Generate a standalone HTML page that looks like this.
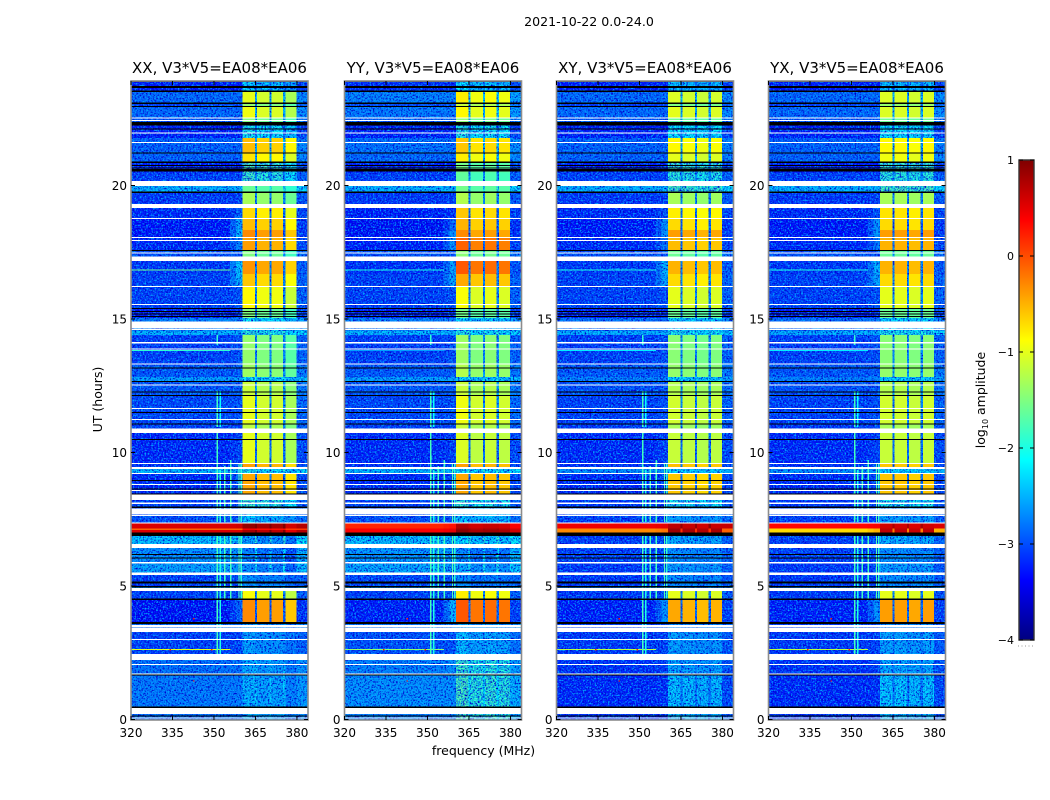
<!DOCTYPE html>
<html>
<head>
<meta charset="utf-8">
<title>2021-10-22 amplitude waterfall</title>
<style>
html,body{margin:0;padding:0;background:#fff;}
svg{display:block;}
text{font-family:"DejaVu Sans","Liberation Sans",sans-serif;fill:#000;}
</style>
</head>
<body>
<svg id="chart" width="1050" height="800" viewBox="0 0 1050 800" xmlns="http://www.w3.org/2000/svg">
<defs id="defs">
<linearGradient id="cbar-gradient" x1="0" y1="1" x2="0" y2="0"></linearGradient>
</defs>
<rect x="0" y="0" width="1050" height="800" fill="#fff"></rect>
<text x="589" y="26" font-size="12.6" text-anchor="middle">2021-10-22 0.0-24.0</text>
<text x="102" y="399.5" font-size="12.5" text-anchor="middle" transform="rotate(-90 102 399.5)">UT (hours)</text>
<text x="483.5" y="755" font-size="12.5" text-anchor="middle">frequency (MHz)</text>
<text x="985" y="400" font-size="12.5" text-anchor="middle" transform="rotate(-90 985 400)">log<tspan font-size="8" dy="3">10</tspan><tspan dy="-3"> amplitude</tspan></text>
<g id="panels"></g>
<g id="colorbar"></g>
</svg>
<script>
// Band edges in UT hours, from the top of each panel downward
const bandEdges = [23.95,23.51,23.06,22.94,22.52,22.24,21.77,21.21,20.85,20.48,20.16,19.71,19.16,18.76,18.33,18.07,17.55,17.18,16.69,16.20,15.41,15.03,14.55,14.40,13.29,12.82,12.64,12.15,11.06,10.73,9.61,9.39,9.19,8.45,7.96,7.35,7.16,7.10,7.01,6.87,6.42,5.85,5.42,5.00,4.82,4.48,3.65,3.28,2.23,1.67,0.43,0];

// log10 amplitude per band, off-band background
const xxBackground = [-3.3,-2.85,-3.1,-2.85,-3.0,-3.3,-2.9,-2.9,-3.3,-3.1,
 -2.4,-3.15,-3.25,-3.35,-3.35,-3.25,-3.0,-3.15,-3.1,-3.1,
 -3.3,-2.7,-2.35,-3.1,-2.95,-2.5,-2.95,-3.05,-3.1,-3.25,
 -3.2,-2.35,-3.25,-3.1,-3.0,0.55,-0.1,0.55,0.55,-2.3,
 -2.6,-2.5,-3.1,-2.5,-3.1,-3.4,-2.8,-3.1,-2.8,-2.75,-2.8];
const yyBackground = [-3.2,-2.7,-3.0,-2.75,-2.9,-3.3,-2.8,-2.85,-3.3,-3.1,
 -2.4,-3.15,-3.3,-3.4,-3.4,-3.3,-3.0,-3.2,-3.1,-3.1,
 -3.3,-2.7,-2.35,-3.1,-2.95,-2.5,-2.95,-3.05,-3.1,-3.25,
 -3.2,-2.35,-3.25,-3.1,-3.0,0.2,0.4,0.4,0.4,-2.3,
 -2.55,-2.45,-3.05,-2.5,-3.1,-3.3,-2.75,-3.0,-2.7,-2.6,-2.7];
const xyBackground = [-3.3,-2.85,-3.1,-2.85,-3.0,-3.3,-2.9,-2.9,-3.3,-3.1,
 -2.4,-3.15,-3.25,-3.35,-3.35,-3.25,-3.0,-3.15,-3.1,-3.1,
 -3.3,-2.8,-2.4,-3.1,-2.95,-2.7,-3.0,-3.1,-3.15,-3.25,
 -3.2,-2.6,-3.25,-3.15,-3.1,0.45,-0.3,-0.3,-0.3,-3.1,
 -3.1,-3.15,-3.15,-2.7,-3.15,-3.3,-3.1,-3.15,-3.2,-3.25,-3.2];
const yxBackground = [-3.3,-2.85,-3.1,-2.85,-3.0,-3.3,-2.9,-2.9,-3.3,-3.1,
 -2.4,-3.15,-3.25,-3.35,-3.35,-3.25,-3.0,-3.15,-3.1,-3.1,
 -3.3,-2.8,-2.4,-3.1,-2.95,-2.7,-3.0,-3.1,-3.15,-3.25,
 -3.2,-2.6,-3.25,-3.15,-3.1,0.35,-0.7,-0.7,-0.7,-3.1,
 -3.1,-3.15,-3.15,-2.7,-3.15,-3.3,-3.1,-3.15,-3.2,-3.25,-3.2];

// log10 amplitude per band, shoulder just below the passband
const xxShoulder = [-3.3,-2.85,-3.1,-2.85,-3.0,-3.3,-2.9,-2.9,-3.3,-3.1,
 -2.4,-3.1,-2.9,-2.5,-2.4,-2.7,-3.0,-2.3,-2.4,-3.0,
 -3.2,-2.7,-2.35,-3.0,-2.95,-2.5,-2.95,-3.0,-3.1,-3.1,
 -2.9,-2.35,-2.9,-3.1,-3.0,0.6,-0.1,0.55,0.55,-2.4,
 -2.6,-2.6,-3.0,-2.5,-3.0,-2.9,-2.8,-3.1,-2.8,-2.75,-2.8];
const yyShoulder = [-3.2,-2.7,-3.0,-2.75,-2.9,-3.3,-2.8,-2.85,-3.3,-3.1,
 -2.4,-3.1,-3.2,-2.9,-2.6,-2.6,-3.0,-2.5,-2.5,-3.0,
 -3.2,-2.7,-2.35,-3.0,-2.95,-2.5,-2.95,-3.0,-3.1,-3.1,
 -3.0,-2.35,-3.0,-3.1,-3.0,0.3,0.5,0.5,0.5,-2.4,
 -2.6,-2.6,-3.0,-2.5,-2.9,-2.4,-2.7,-3.0,-2.6,-2.6,-2.7];
const xyShoulder = [-3.3,-2.85,-3.1,-2.85,-3.0,-3.3,-2.9,-2.9,-3.3,-3.1,
 -2.4,-3.1,-3.0,-2.6,-2.6,-2.8,-3.0,-2.4,-2.5,-3.0,
 -3.2,-2.8,-2.4,-3.0,-2.95,-2.7,-3.0,-3.0,-3.1,-3.1,
 -3.0,-2.6,-3.0,-3.1,-3.1,0.5,-0.2,-0.2,-0.2,-3.0,
 -3.0,-3.0,-3.1,-2.7,-3.0,-2.6,-3.0,-3.1,-3.1,-3.2,-3.2];
const yxShoulder = [-3.3,-2.85,-3.1,-2.85,-3.0,-3.3,-2.9,-2.9,-3.3,-3.1,
 -2.4,-3.1,-3.0,-2.6,-2.6,-2.8,-3.0,-2.4,-2.5,-3.0,
 -3.2,-2.8,-2.4,-3.0,-2.95,-2.7,-3.0,-3.0,-3.1,-3.1,
 -3.0,-2.6,-3.0,-3.1,-3.1,0.4,-0.5,-0.5,-0.5,-3.0,
 -3.0,-3.0,-3.1,-2.7,-3.0,-2.6,-3.0,-3.1,-3.1,-3.2,-3.2];

// log10 amplitude per band, inside the 360-380 MHz passband
const xxPassband = [-2.3,-1.1,-1.5,-1.05,-1.6,-2.1,-0.65,-0.85,-1.8,-1.9,
 -1.7,-1.4,-0.8,-0.65,-0.4,-0.5,-1.6,-0.45,-0.7,-0.95,
 -1.6,-2.2,-2.0,-1.5,-1.45,-2.2,-1.25,-1.1,-1.3,-1.1,
 -0.5,-2.1,-0.55,-1.9,-2.4,0.8,0.3,0.7,0.7,-2.6,
 -2.8,-2.7,-2.7,-2.6,-1.0,-0.4,-2.6,-2.6,-2.55,-2.5,-2.5];
const yyPassband = [-2.2,-0.85,-1.2,-0.9,-1.5,-2.0,-0.65,-0.85,-1.6,-1.7,
 -1.6,-1.3,-0.65,-0.55,-0.35,-0.15,-1.5,-0.1,-0.5,-0.95,
 -1.6,-2.2,-2.0,-1.4,-1.3,-2.2,-1.2,-1.0,-1.2,-1.1,
 -0.45,-2.1,-0.5,-1.9,-2.3,0.7,0.85,0.9,0.8,-2.2,
 -2.7,-2.5,-2.7,-2.5,-0.85,-0.1,-2.5,-2.4,-1.85,-1.8,-1.8];
const xyPassband = [-2.3,-1.05,-1.5,-1.0,-1.6,-2.1,-0.85,-1.0,-1.8,-1.9,
 -1.75,-1.3,-0.8,-0.7,-0.4,-0.55,-1.6,-0.5,-0.7,-1.0,
 -1.6,-2.2,-2.0,-1.45,-1.4,-2.2,-1.25,-1.1,-1.3,-1.15,
 -0.55,-2.2,-0.6,-2.0,-2.5,0.7,0.85,0.85,0.6,-2.4,
 -2.6,-2.5,-2.6,-2.6,-1.0,-0.45,-2.6,-2.5,-2.45,-2.3,-2.35];
const yxPassband = [-2.3,-1.05,-1.4,-1.05,-1.6,-2.1,-0.85,-0.95,-1.8,-1.9,
 -1.75,-1.3,-0.75,-0.7,-0.4,-0.5,-1.6,-0.5,-0.7,-1.0,
 -1.6,-2.2,-2.0,-1.45,-1.4,-2.2,-1.25,-1.1,-1.3,-1.15,
 -0.6,-2.2,-0.6,-2.0,-2.5,0.6,0.7,0.7,0.6,-2.4,
 -2.6,-2.5,-2.6,-2.6,-1.0,-0.4,-2.6,-2.5,-2.45,-2.3,-2.35];

// Offset of the four sub-bands relative to the passband level
const xxSubBands = [0.1,0,0,-0.2];
const yySubBands = [0.05,-0.1,-0.05,-0.1];
const xySubBands = [0,-0.05,-0.1,-0.05];
const yxSubBands = [0,0,-0.05,0];

// Frequency segment edges (MHz) and what each segment holds
const freqEdges = [320,355.8,358,360.4,364.8,365.6,370.1,370.8,375,375.8,379.9,384];
const segmentKinds = ['bg','s0','sh','p0','n','p1','n','p2','n','p3','r'];

// Time ranges with no data (white), as start/end UT pairs
const blankStart = [22.55,22.46,21.98,21.63,20.16,19.31,18.78,18.08,17.96,17.50,17.35,16.24,15.56,14.90,14.63,14.13,13.90,13.34,12.55,11.66,11.25,10.89,9.60,9.45,9.24,8.82,8.60,8.43,8.12,7.91,7.67,7.37,6.57,5.89,5.50,4.93,3.53,3.42,3.01,2.45,2.08,1.73,0.43,0.08];
const blankEnd = [22.52,22.43,21.94,21.60,19.99,19.16,18.76,18.04,17.93,17.47,17.18,16.20,15.52,14.65,14.59,14.09,13.88,13.29,12.52,11.62,11.23,10.73,9.56,9.39,9.19,8.78,8.57,8.22,8.07,7.70,7.63,7.35,6.42,5.85,5.42,4.82,3.45,3.28,2.99,2.23,2.04,1.70,0.21,0.04];

// Time ranges of flagged samples (black)
const flagStart = [23.95,23.73,23.55,23.10,22.98,22.38,22.13,21.24,20.89,20.77,20.68,20.61,19.78,17.58,15.41,15.30,15.21,15.11,13.19,12.68,12.28,12.16,11.52,11.09,10.51,8.97,8.66,8.47,7.97,7.01,6.20,6.07,5.16,5.00,4.54,3.66,1.69,0.48,0.15];
const flagEnd = [23.88,23.66,23.51,23.06,22.94,22.24,22.09,21.21,20.85,20.73,20.64,20.53,19.71,17.55,15.37,15.27,15.19,15.09,13.16,12.64,12.24,12.15,11.48,11.06,10.47,8.93,8.62,8.43,7.93,6.87,6.16,6.04,5.10,4.94,4.48,3.58,1.67,0.43,0.11];

// Narrow-band interference: frequency, UT range, level
const rfiFreq = [351,351,351,351,352,352,352,353.7,353.7,355.8,355.8,358.8,358.8,359.6,359.6];
const rfiFrom = [14.40,12.30,10.73,6.87,12.30,9.34,6.87,9.50,6.87,9.72,6.87,9.60,6.87,9.60,6.87];
const rfiTo = [14.03,10.96,7.40,2.23,10.96,7.40,2.23,7.40,4.48,7.40,4.48,7.40,4.48,7.40,4.48];
const rfiLevel = [-1.9,-1.8,-1.8,-1.8,-2.1,-2.0,-2.0,-1.8,-1.8,-1.8,-1.8,-1.7,-1.7,-1.9,-1.9];

// Broadband interference lines: UT and level per panel
const lineUT = [16.85,14.12,13.84,2.64];
const xxLineLevel = [-1.6,-1.8,-1.9,-1.0];
const yyLineLevel = [-2.0,-2.4,-2.6,-1.4];
const xyLineLevel = [-2.0,-2.2,-2.2,-1.2];
const yxLineLevel = [-2.0,-2.2,-2.2,-1.2];

// Isolated hot samples
const spotFreq = [334,342.5,342.5,349];
const spotUT = [2.64,3.8,1.47,2.64];
const spotLevel = [0.3,0.3,0.3,0.2];

// Panels and axes
const panelNames = ['xx','yy','xy','yx'];
const panelTitles = ['XX, V3*V5=EA08*EA06','YY, V3*V5=EA08*EA06','XY, V3*V5=EA08*EA06','YX, V3*V5=EA08*EA06'];
const freqTicks = [320,335,350,365,380];
const utTicks = [0,5,10,15,20];
const colorTicks = [1,0,-1,-2,-3,-4];
const colorTickLabels = ['1','0','\u22121','\u22122','\u22123','\u22124'];

const backgrounds = [xxBackground,yyBackground,xyBackground,yxBackground];
const shoulders = [xxShoulder,yyShoulder,xyShoulder,yxShoulder];
const passbands = [xxPassband,yyPassband,xyPassband,yxPassband];
const subBands = [xxSubBands,yySubBands,xySubBands,yxSubBands];
const lineLevels = [xxLineLevel,yyLineLevel,xyLineLevel,yxLineLevel];

const NS = 'http://www.w3.org/2000/svg';
const panelLeft = [131,344.5,556.5,768.5];
const panelWidth = 177;
const plotTop = 81;
const plotBottom = 720;
const freqMin = 320, freqMax = 384;

function xAxis(i, f){ return panelLeft[i] + (f - freqMin) / (freqMax - freqMin) * panelWidth; }
function yAxis(ut){ return Math.min(plotBottom, Math.max(plotTop, 719.5 - ut * 26.7)); }
function clamp01(v){ return Math.max(0, Math.min(1, v)); }
function jet(v){
  const t = clamp01((v + 4) / 5);
  const r = clamp01(1.5 - Math.abs(4 * t - 3));
  const g = clamp01(1.5 - Math.abs(4 * t - 2));
  const b = clamp01(1.5 - Math.abs(4 * t - 1));
  return 'rgb(' + Math.round(r * 255) + ',' + Math.round(g * 255) + ',' + Math.round(b * 255) + ')';
}
function rectEl(parent, x, y, w, h, fill){
  const r = document.createElementNS(NS, 'rect');
  r.setAttribute('x', x);
  r.setAttribute('y', y);
  r.setAttribute('width', w);
  r.setAttribute('height', h);
  r.setAttribute('fill', fill);
  parent.appendChild(r);
  return r;
}
function lineEl(parent, x1, y1, x2, y2, stroke){
  const l = document.createElementNS(NS, 'line');
  l.setAttribute('x1', x1);
  l.setAttribute('y1', y1);
  l.setAttribute('x2', x2);
  l.setAttribute('y2', y2);
  l.setAttribute('stroke', stroke);
  l.setAttribute('stroke-width', 1);
  parent.appendChild(l);
  return l;
}
function textEl(parent, x, y, size, anchor, content){
  const t = document.createElementNS(NS, 'text');
  t.setAttribute('x', x);
  t.setAttribute('y', y);
  t.setAttribute('font-size', size);
  t.setAttribute('text-anchor', anchor);
  t.textContent = content;
  parent.appendChild(t);
  return t;
}
function segmentLevel(kind, p, b){
  const bg = backgrounds[p][b];
  if (kind === 'bg') return bg;
  if (kind === 'sh') return shoulders[p][b];
  if (kind === 's0') return (bg + shoulders[p][b]) / 2;
  if (kind === 'r') return bg + 0.2;
  if (kind === 'n') return bg + 0.45;
  return passbands[p][b] + subBands[p][Number(kind.charAt(1))];
}
function hasGrain(kind, p, b){
  if (backgrounds[p][b] >= -2) return false;
  if (kind.charAt(0) === 'p') return passbands[p][b] < -1.7;
  return true;
}

const defs = document.getElementById('defs');
const panels = document.getElementById('panels');

panelNames.forEach(function(name, p){
  const filter = document.createElementNS(NS, 'filter');
  filter.setAttribute('id', 'grain-' + name);
  filter.setAttribute('filterUnits', 'userSpaceOnUse');
  filter.setAttribute('x', panelLeft[p]);
  filter.setAttribute('y', plotTop);
  filter.setAttribute('width', panelWidth);
  filter.setAttribute('height', plotBottom - plotTop);
  filter.setAttribute('color-interpolation-filters', 'sRGB');
  filter.innerHTML = '<feTurbulence type="fractalNoise" baseFrequency="0.6" numOctaves="2" seed="' + (p + 3) + '" result="n"></feTurbulence>' +
    '<feColorMatrix in="n" type="matrix" values="0 0 0 0 0  0 0 0 0 0.65  0 0 0 0 1  3.5 0 0 0 -1.65" result="light"></feColorMatrix>' +
    '<feColorMatrix in="n" type="matrix" values="0 0 0 0 0  0 0 0 0 0  0 0 0 0 0.8  0 3.5 0 0 -1.55" result="dark"></feColorMatrix>' +
    '<feMerge result="m"><feMergeNode in="dark"></feMergeNode><feMergeNode in="light"></feMergeNode></feMerge>' +
    '<feComposite in="m" in2="SourceAlpha" operator="in"></feComposite>';
  defs.appendChild(filter);

  const clip = document.createElementNS(NS, 'clipPath');
  clip.setAttribute('id', 'clip-' + name);
  rectEl(clip, panelLeft[p], plotTop, panelWidth, plotBottom - plotTop, '#000');
  defs.appendChild(clip);

  const panel = document.createElementNS(NS, 'g');
  
  
  panels.appendChild(panel);

  const image = document.createElementNS(NS, 'g');
  image.setAttribute('clip-path', 'url(#clip-' + name + ')');
  image.setAttribute('shape-rendering', 'crispEdges');
  
  
  panel.appendChild(image);

  const grain = document.createElementNS(NS, 'g');
  grain.setAttribute('filter', 'url(#grain-' + name + ')');
  
  

  for (let b = 0; b < bandEdges.length - 1; b++) {
    const y0 = yAxis(bandEdges[b]);
    const y1 = yAxis(bandEdges[b + 1]);
    segmentKinds.forEach(function(kind, s){
      const x0 = xAxis(p, freqEdges[s]);
      const x1 = xAxis(p, freqEdges[s + 1]);
      const level = segmentLevel(kind, p, b);
      const cell = rectEl(image, x0, y0, x1 - x0, y1 - y0, jet(level));
      
      
      if (hasGrain(kind, p, b)) {
        const speck = rectEl(grain, x0, y0, x1 - x0, y1 - y0, '#000');
        
        
      }
    });
  }
  image.appendChild(grain);

  lineUT.forEach(function(ut, k){
    const y = yAxis(ut);
    const rfiLine = rectEl(image, xAxis(p, 320), y, xAxis(p, 356) - xAxis(p, 320), 1, jet(lineLevels[p][k]));
    
    
  });
  rfiFreq.forEach(function(f, k){
    const y0 = yAxis(rfiFrom[k]);
    const y1 = yAxis(rfiTo[k]);
    const rfi = rectEl(image, xAxis(p, f), y0, xAxis(p, f + 0.5) - xAxis(p, f), y1 - y0, jet(rfiLevel[k]));
    
    
  });
  spotFreq.forEach(function(f, k){
    const spot = rectEl(image, xAxis(p, f), yAxis(spotUT[k]), 1.4, 1.4, jet(spotLevel[k]));
    
    
  });
  blankStart.forEach(function(ut, k){
    const y0 = yAxis(ut);
    const blank = rectEl(image, panelLeft[p], y0, panelWidth, Math.max(1, yAxis(blankEnd[k]) - y0), '#fff');
    
    
  });
  flagStart.forEach(function(ut, k){
    const y0 = yAxis(ut);
    const flagged = rectEl(image, panelLeft[p], y0, panelWidth, Math.max(1, yAxis(flagEnd[k]) - y0), '#000');
    
    
  });

  const frame = rectEl(panel, panelLeft[p], plotTop, panelWidth, plotBottom - plotTop, 'none');
  frame.setAttribute('stroke', '#8c8c8c');
  frame.setAttribute('stroke-width', 1.6);
  
  

  const title = textEl(panel, panelLeft[p] + panelWidth / 2, 73, 15, 'middle', panelTitles[p]);
  
  

  freqTicks.forEach(function(f){
    const x = xAxis(p, f);
    const tickB = lineEl(panel, x, plotBottom, x, plotBottom - 4, '#000');
    
    
    const tickT = lineEl(panel, x, plotTop, x, plotTop + 4, '#000');
    
    
    const label = textEl(panel, x, 737, 12, 'middle', String(f));
    
    
  });
  utTicks.forEach(function(ut){
    const y = yAxis(ut);
    const tickL = lineEl(panel, panelLeft[p], y, panelLeft[p] + 4, y, '#000');
    
    
    const tickR = lineEl(panel, panelLeft[p] + panelWidth, y, panelLeft[p] + panelWidth - 4, y, '#000');
    
    
    const label = textEl(panel, panelLeft[p] - 4, y + 4.5, 12, 'end', String(ut));
    
    
  });
});

// Colorbar
const cbarLeft = 1019, cbarRight = 1034, cbarTop = 160, cbarBottom = 640;
function cbarY(v){ return cbarBottom - (v + 4) / 5 * (cbarBottom - cbarTop); }
const gradient = document.getElementById('cbar-gradient');
for (let i = 0; i <= 40; i++) {
  const stop = document.createElementNS(NS, 'stop');
  stop.setAttribute('offset', (i / 40 * 100) + '%');
  stop.setAttribute('stop-color', jet(-4 + i / 40 * 5));
  gradient.appendChild(stop);
}
const colorbar = document.getElementById('colorbar');
const cbarFill = rectEl(colorbar, cbarLeft, cbarTop, cbarRight - cbarLeft, cbarBottom - cbarTop, 'url(#cbar-gradient)');
cbarFill.setAttribute('stroke', '#333');
cbarFill.setAttribute('stroke-width', 1.4);


colorTicks.forEach(function(v, k){
  const y = cbarY(v);
  const tickL = lineEl(colorbar, cbarLeft, y, cbarLeft + 4, y, '#000');
  
  
  const tickR = lineEl(colorbar, cbarRight, y, cbarRight - 4, y, '#000');
  
  
  const label = textEl(colorbar, 1014, y + 4, 11, 'end', colorTickLabels[k]);
  
  
});
const cbarDots = lineEl(colorbar, 1018, 646, 1034, 646, '#999');
cbarDots.setAttribute('stroke-dasharray', '1 2.5');


</script>
</body>
</html>
